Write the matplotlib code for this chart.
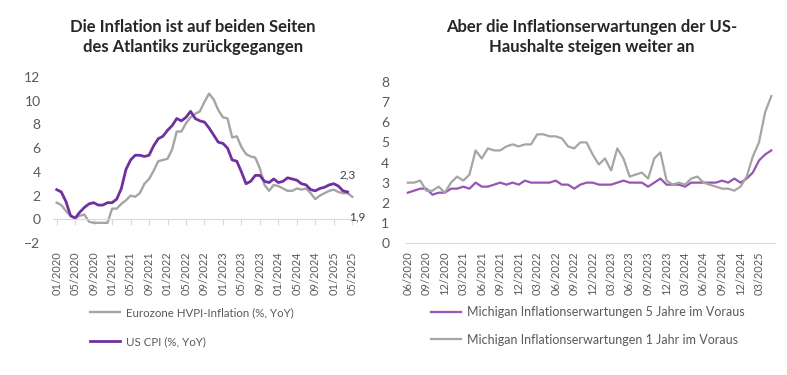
import numpy as np
import matplotlib as mpl
mpl.use('Agg')
import matplotlib.pyplot as plt

plt.rcParams['font.family'] = ['Lato', 'DejaVu Sans']

# left chart: monthly 01/2020 - 05/2025
ez_hicp = [1.4, 1.2, 0.7, 0.3, 0.1, 0.3, 0.4, -0.2, -0.3, -0.3, -0.3, -0.3,
           0.9, 0.9, 1.3, 1.6, 2.0, 1.9, 2.2, 3.0, 3.4, 4.1, 4.9, 5.0,
           5.1, 5.9, 7.4, 7.4, 8.1, 8.6, 8.9, 9.1, 9.9, 10.6, 10.1, 9.2,
           8.6, 8.5, 6.9, 7.0, 6.1, 5.5, 5.3, 5.2, 4.3, 2.9, 2.4, 2.9,
           2.8, 2.6, 2.4, 2.4, 2.6, 2.5, 2.6, 2.2, 1.7, 2.0, 2.2, 2.4,
           2.5, 2.3, 2.2, 2.2, 1.9]
us_cpi = [2.5, 2.3, 1.5, 0.3, 0.1, 0.6, 1.0, 1.3, 1.4, 1.2, 1.2, 1.4,
          1.4, 1.7, 2.6, 4.2, 5.0, 5.4, 5.4, 5.3, 5.4, 6.2, 6.8, 7.0,
          7.5, 7.9, 8.5, 8.3, 8.6, 9.1, 8.5, 8.3, 8.2, 7.7, 7.1, 6.5,
          6.4, 6.0, 5.0, 4.9, 4.0, 3.0, 3.2, 3.7, 3.7, 3.2, 3.1, 3.4,
          3.1, 3.2, 3.5, 3.4, 3.3, 3.0, 2.9, 2.5, 2.4, 2.6, 2.7, 2.9,
          3.0, 2.8, 2.4, 2.3]
left_labels = ['01/2020', '05/2020', '09/2020', '01/2021', '05/2021', '09/2021',
               '01/2022', '05/2022', '09/2022', '01/2023', '05/2023', '09/2023',
               '01/2024', '05/2024', '09/2024', '01/2025', '05/2025']

# right chart: monthly 06/2020 - 05/2025
mich_5y = [2.5, 2.6, 2.7, 2.7, 2.4, 2.5, 2.5, 2.7, 2.7, 2.8, 2.7, 3.0,
           2.8, 2.8, 2.9, 3.0, 2.9, 3.0, 2.9, 3.1, 3.0, 3.0, 3.0, 3.0,
           3.1, 2.9, 2.9, 2.7, 2.9, 3.0, 3.0, 2.9, 2.9, 2.9, 3.0, 3.1,
           3.0, 3.0, 3.0, 2.8, 3.0, 3.2, 2.9, 2.9, 2.9, 2.8, 3.0, 3.0,
           3.0, 3.0, 3.0, 3.1, 3.0, 3.2, 3.0, 3.2, 3.5, 4.1, 4.4, 4.6]
mich_1y = [3.0, 3.0, 3.1, 2.6, 2.6, 2.8, 2.5, 3.0, 3.3, 3.1, 3.4, 4.6,
           4.2, 4.7, 4.6, 4.6, 4.8, 4.9, 4.8, 4.9, 4.9, 5.4, 5.4, 5.3,
           5.3, 5.2, 4.8, 4.7, 5.0, 5.0, 4.4, 3.9, 4.2, 3.6, 4.7, 4.2,
           3.3, 3.4, 3.5, 3.2, 4.2, 4.5, 3.1, 2.9, 3.0, 2.9, 3.2, 3.3,
           3.0, 2.9, 2.8, 2.7, 2.7, 2.6, 2.8, 3.3, 4.3, 5.0, 6.5, 7.3]
right_labels = ['06/2020', '09/2020', '12/2020', '03/2021', '06/2021', '09/2021',
                '12/2021', '03/2022', '06/2022', '09/2022', '12/2022', '03/2023',
                '06/2023', '09/2023', '12/2023', '03/2024', '06/2024', '09/2024',
                '12/2024', '03/2025']

GRAY = '#A5A5A5'
PURPLE = '#7030A0'
PURPLE2 = '#9654B4'
TXT = '#595959'
AX = '#D9D9D9'

W, H = 787, 375
fig = plt.figure(figsize=(W / 100, H / 100), dpi=100)

# ---- left
ax1 = fig.add_axes([53 / W, 1 - 243 / H, 302 / W, 166 / H])
x1 = np.arange(len(ez_hicp))
ax1.plot(x1, ez_hicp, color=GRAY, lw=1.7, label='Eurozone HVPI-Inflation (%, YoY)')
ax1.plot(np.arange(len(us_cpi)), us_cpi, color=PURPLE, lw=2.0, label='US CPI (%, YoY)')
ax1.set_ylim(-2, 12)
ax1.set_xlim(-0.8, 64.6)
ax1.set_yticks(np.arange(-2, 13, 2))
ax1.tick_params(axis='y', length=0, labelsize=10, labelcolor=TXT, pad=9)
for s in ['top', 'right', 'left']:
    ax1.spines[s].set_visible(False)
ax1.spines['bottom'].set_position(('data', 0))
ax1.spines['bottom'].set_color(AX)
ax1.set_xticks(np.arange(0, 65, 4))
ax1.tick_params(axis='x', length=4, color=AX, labelbottom=False)
sec1 = ax1.secondary_xaxis(0)
sec1.set_xticks(np.arange(0, 65, 4))
sec1.set_xticklabels(left_labels, rotation=90)
sec1.tick_params(length=0, labelsize=7.9, labelcolor=TXT, pad=6)
sec1.spines['bottom'].set_visible(False)
ax1.annotate('2,3', (len(us_cpi) - 1, us_cpi[-1]), xytext=(0, 12), textcoords='offset points',
             ha='center', va='center', fontsize=8.5, color='#404040')
ax1.annotate('1,9', (len(ez_hicp) - 1, ez_hicp[-1]), xytext=(3.5, -14.5), textcoords='offset points',
             ha='center', va='center', fontsize=8.5, color='#404040')
fig.text(193 / W, 1 - 37 / H, 'Die Inflation ist auf beiden Seiten\ndes Atlantiks zurückgegangen',
         ha='center', va='center', fontsize=12, fontweight='bold', color='#262626', linespacing=1.35)
fig.legend(*ax1.get_legend_handles_labels(), loc='upper left', bbox_to_anchor=(90 / W, 1 - 307 / H),
           frameon=False, fontsize=8.3, labelcolor=TXT, borderpad=0, borderaxespad=0,
           handlelength=2.6, handletextpad=0.5, labelspacing=1.6)

# ---- right
ax2 = fig.add_axes([406 / W, 1 - 243 / H, 369 / W, 161 / H])
x2 = np.arange(len(mich_5y))
ax2.plot(x2, mich_5y, color=PURPLE2, lw=1.6, label='Michigan Inflationserwartungen 5 Jahre im Voraus')
ax2.plot(x2, mich_1y, color=GRAY, lw=1.6, label='Michigan Inflationserwartungen 1 Jahr im Voraus')
ax2.set_ylim(0, 8)
ax2.set_xlim(-0.3, 59.6)
ax2.set_yticks(np.arange(0, 9, 1))
ax2.tick_params(axis='y', length=0, labelsize=10, labelcolor=TXT, pad=12)
for s in ['top', 'right', 'left']:
    ax2.spines[s].set_visible(False)
ax2.spines['bottom'].set_color(AX)
ax2.set_xticks(np.arange(0, 60, 3))
ax2.set_xticklabels(right_labels, rotation=90)
ax2.tick_params(axis='x', length=0, labelsize=7.9, labelcolor=TXT, pad=6)
fig.text(592 / W, 1 - 37 / H, 'Aber die Inflationserwartungen der US-\nHaushalte steigen weiter an',
         ha='center', va='center', fontsize=12, fontweight='bold', color='#262626', linespacing=1.35)
fig.legend(*ax2.get_legend_handles_labels(), loc='upper left', bbox_to_anchor=(431 / W, 1 - 306 / H),
           frameon=False, fontsize=9, labelcolor=TXT, borderpad=0, borderaxespad=0,
           handlelength=2.4, handletextpad=0.45, labelspacing=1.25)

fig.savefig('out.png', dpi=100)
